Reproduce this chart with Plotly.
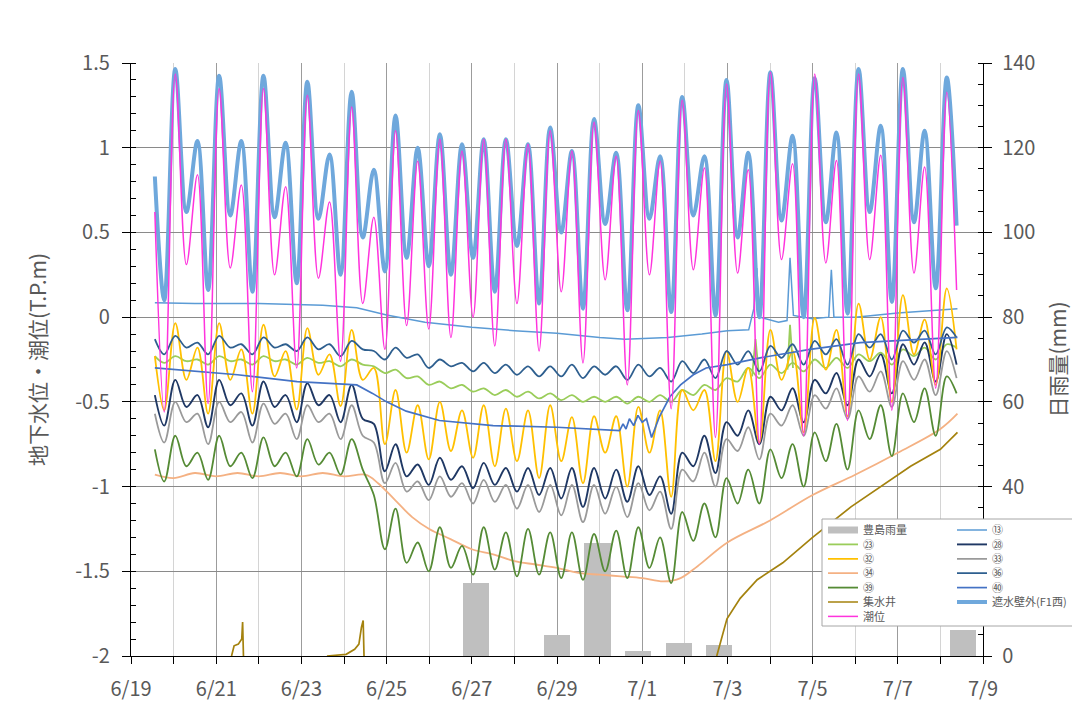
import pandas as pd
import plotly.graph_objects as go

BASE = pd.Timestamp("2021-06-19")

# ---------------- data (time in days since 6/19 00:00) ----------------
rain_categories = ["6/19", "6/20", "6/21", "6/22", "6/23", "6/24", "6/25", "6/26", "6/27", "6/28",
                   "6/29", "6/30", "7/1", "7/2", "7/3", "7/4", "7/5", "7/6", "7/7", "7/8", "7/9"]
rain_dates = ["6/27", "6/29", "6/30", "7/1", "7/2", "7/3", "7/9"]
rain_mm = [17.2, 5.0, 26.6, 1.2, 3.0, 2.7, 6.1]

tide_t = [0.56, 0.78, 1.04, 1.30, 1.56, 1.81, 2.07, 2.33, 2.59, 2.85, 3.11, 3.37, 3.63, 3.89, 4.14,
          4.40, 4.66, 4.92, 5.18, 5.44, 5.70, 5.96, 6.21, 6.47, 6.73, 6.99, 7.25, 7.51, 7.77, 8.03,
          8.28, 8.54, 8.80, 9.06, 9.32, 9.58, 9.84, 10.10, 10.35, 10.61, 10.87, 11.13, 11.39, 11.65,
          11.91, 12.17, 12.42, 12.68, 12.94, 13.20, 13.46, 13.72, 13.98, 14.24, 14.49, 14.75, 15.01,
          15.27, 15.53, 15.79, 16.05, 16.31, 16.56, 16.82, 17.08, 17.34, 17.60, 17.86, 18.12, 18.38,
          18.63, 18.89, 19.15, 19.38]

tide_level = [0.62,
    -0.56, 1.435, 0.31, 0.84, -0.51, 1.35, 0.29, 0.78, -0.44, 1.35,
    0.25, 0.77, -0.30, 1.31, 0.23, 0.68, -0.26, 1.24, 0.08, 0.59,
    -0.19, 1.10, -0.05, 0.92, -0.07, 1.05, -0.12, 0.98, 0.00, 1.05,
    -0.17, 1.05, 0.08, 1.02, -0.20, 1.10, 0.15, 0.98, -0.27, 1.15,
    0.22, 0.95, -0.40, 1.22, 0.25, 0.92, -0.54, 1.28, 0.28, 0.88,
    -0.71, 1.376, 0.26, 0.87, -0.75, 1.445, 0.34, 0.905, -0.70, 1.435,
    0.32, 0.925, -0.61, 1.435, 0.34, 0.955, -0.55, 1.415, 0.26, 0.886,
    -0.42, 1.327, 0.16]

wall_f1w = [0.83,
    0.10, 1.465, 0.62, 1.04, 0.16, 1.425, 0.60, 1.04, 0.15, 1.425,
    0.59, 1.03, 0.20, 1.39, 0.58, 0.96, 0.25, 1.33, 0.47, 0.87,
    0.27, 1.19, 0.35, 1.00, 0.30, 1.08, 0.25, 1.02, 0.35, 1.05,
    0.15, 1.05, 0.42, 1.02, 0.08, 1.12, 0.50, 0.98, 0.05, 1.17,
    0.55, 0.97, 0.04, 1.25, 0.58, 0.95, 0.03, 1.30, 0.60, 0.95,
    0.01, 1.40, 0.47, 0.97, 0.00, 1.445, 0.57, 1.07, 0.00, 1.41,
    0.56, 1.09, 0.02, 1.465, 0.62, 1.13, 0.09, 1.465, 0.56, 1.10,
    0.17, 1.415, 0.54]

w28 = [-0.46,
    -0.64, -0.37, -0.53, -0.46, -0.65, -0.37, -0.52, -0.45, -0.64, -0.38,
    -0.53, -0.46, -0.62, -0.39, -0.52, -0.46, -0.62, -0.40, -0.60, -0.63,
    -0.91, -0.75, -0.94, -0.87, -0.99, -0.83, -0.96, -0.88, -1.01, -0.86,
    -0.99, -0.89, -1.03, -0.89, -1.05, -0.89, -1.07, -0.89, -1.12, -0.89,
    -1.07, -0.90, -1.09, -0.88, -1.05, -0.94, -1.16, -0.80, -0.88, -0.70,
    -0.92, -0.62, -0.70, -0.55, -0.75, -0.47, -0.55, -0.42, -0.62, -0.37,
    -0.45, -0.33, -0.52, -0.25, -0.35, -0.22, -0.45, -0.16, -0.28, -0.15,
    -0.38, -0.10, -0.28]

w33 = [-0.57,
    -0.74, -0.50, -0.62, -0.57, -0.75, -0.50, -0.62, -0.56, -0.74, -0.51,
    -0.63, -0.57, -0.72, -0.52, -0.62, -0.57, -0.72, -0.52, -0.70, -0.74,
    -0.98, -0.86, -1.03, -0.97, -1.08, -0.94, -1.06, -0.98, -1.10, -0.96,
    -1.09, -0.99, -1.13, -0.99, -1.15, -0.99, -1.17, -0.99, -1.21, -0.99,
    -1.16, -1.00, -1.18, -0.98, -1.14, -1.03, -1.25, -0.90, -0.97, -0.80,
    -1.00, -0.72, -0.79, -0.65, -0.84, -0.57, -0.64, -0.52, -0.70, -0.46,
    -0.54, -0.42, -0.60, -0.35, -0.44, -0.32, -0.53, -0.26, -0.37, -0.25,
    -0.46, -0.20, -0.36]

w32 = [-0.23,
    -0.55, -0.035, -0.37, -0.18, -0.57, -0.035, -0.37, -0.19, -0.57, -0.045,
    -0.35, -0.20, -0.545, -0.065, -0.34, -0.22, -0.525, -0.075, -0.37, -0.30,
    -0.75, -0.43, -0.80, -0.52, -0.84, -0.50, -0.79, -0.55, -0.83, -0.52,
    -0.88, -0.54, -0.85, -0.55, -0.95, -0.52, -0.85, -0.59, -0.98, -0.585,
    -0.80, -0.585, -1.00, -0.53, -0.80, -0.55, -1.06, -0.43, -0.55, -0.43,
    -0.85, -0.20, -0.50, -0.30, -0.74, -0.075, -0.37, -0.20, -0.68, -0.005,
    -0.31, -0.075, -0.585, 0.08, -0.25, 0.00, -0.50, 0.13, -0.22, -0.015,
    -0.40, 0.17, -0.19]

w39 = [-0.78,
    -0.97, -0.70, -0.88, -0.80, -0.96, -0.70, -0.88, -0.80, -0.95, -0.71,
    -0.88, -0.80, -0.94, -0.72, -0.87, -0.80, -0.93, -0.72, -0.90, -1.05,
    -1.37, -1.13, -1.45, -1.33, -1.50, -1.24, -1.48, -1.35, -1.52, -1.24,
    -1.49, -1.27, -1.53, -1.25, -1.52, -1.27, -1.54, -1.27, -1.55, -1.28,
    -1.50, -1.26, -1.54, -1.24, -1.48, -1.30, -1.57, -1.15, -1.32, -1.10,
    -1.30, -0.95, -1.10, -0.90, -1.10, -0.78, -0.95, -0.75, -1.00, -0.68,
    -0.85, -0.63, -0.90, -0.55, -0.72, -0.52, -0.82, -0.45, -0.62, -0.42,
    -0.70, -0.35, -0.45]

w36 = [-0.13,
    -0.22, -0.11, -0.18, -0.15, -0.22, -0.11, -0.18, -0.16, -0.22, -0.12,
    -0.18, -0.16, -0.20, -0.12, -0.19, -0.16, -0.23, -0.14, -0.19, -0.20,
    -0.25, -0.18, -0.24, -0.22, -0.30, -0.25, -0.29, -0.27, -0.32, -0.27,
    -0.33, -0.28, -0.34, -0.29, -0.35, -0.29, -0.35, -0.28, -0.36, -0.29,
    -0.34, -0.29, -0.37, -0.28, -0.35, -0.30, -0.38, -0.26, -0.33, -0.25,
    -0.36, -0.20, -0.28, -0.20, -0.32, -0.17, -0.24, -0.16, -0.28, -0.14,
    -0.22, -0.13, -0.28, -0.10, -0.18, -0.10, -0.25, -0.08, -0.15, -0.08,
    -0.22, -0.06, -0.12]

w23 = [-0.23,
    -0.27, -0.23, -0.26, -0.25, -0.28, -0.23, -0.26, -0.25, -0.28, -0.23,
    -0.26, -0.25, -0.28, -0.24, -0.27, -0.26, -0.29, -0.25, -0.28, -0.29,
    -0.33, -0.31, -0.36, -0.35, -0.40, -0.38, -0.42, -0.40, -0.44, -0.42,
    -0.46, -0.43, -0.47, -0.44, -0.48, -0.45, -0.49, -0.46, -0.50, -0.47,
    -0.50, -0.47, -0.51, -0.47, -0.50, -0.46, -0.50, -0.43, -0.46, -0.40,
    -0.43, -0.36, -0.38, -0.30, -0.36, -0.28, -0.33, -0.27, -0.32, -0.25,
    -0.30, -0.24, -0.30, -0.22, -0.26, -0.21, -0.28, -0.19, -0.23, -0.18,
    -0.25, -0.16, -0.18]

# short spikes of ㉓ seen around 7/3-7/4
w23_spike_t = [14.58, 14.66, 14.74, None, 15.41, 15.47, 15.54]
w23_spike = [-0.35, -0.13, -0.34, None, -0.31, -0.045, -0.30]

w13_t = [0.56, 1.5, 3.0, 4.5, 5.3, 6.0, 6.9, 8.0, 9.0, 10.0, 11.0, 11.6, 12.6, 13.4, 14.0, 14.5,
         14.62, 14.69, 14.76, 15.2, 15.40, 15.47, 15.55, 16.0, 16.38, 16.44, 16.50, 17.0, 18.0, 19.4]
w13 = [0.085, 0.08, 0.08, 0.07, 0.055, 0.013, -0.03, -0.06, -0.08, -0.095, -0.12, -0.13, -0.12,
       -0.10, -0.08, -0.075, 0.05, 0.29, 0.0, -0.03, -0.02, 0.35, 0.01, -0.01, 0.0, 0.28, 0.0,
       0.0, 0.025, 0.05]

w40_t = [0.56, 2.5, 3.9, 5.3, 5.67, 6.0, 6.46, 7.24, 8.5, 10.0, 11.47, 11.55, 11.62, 11.7, 11.8,
         11.9, 12.0, 12.1, 12.22, 12.4, 12.65, 12.9, 13.2, 13.5, 14.0, 14.77, 15.94, 17.12, 19.4]
w40 = [-0.30, -0.34, -0.38, -0.40, -0.45, -0.50, -0.555, -0.61, -0.64, -0.65, -0.67, -0.63, -0.66,
       -0.60, -0.64, -0.58, -0.62, -0.60, -0.71, -0.59, -0.47, -0.40, -0.34, -0.30, -0.28, -0.24,
       -0.19, -0.15, -0.12]

w34_t = [0.56, 1.0, 1.5, 2.0, 2.5, 3.0, 3.5, 4.0, 4.5, 5.0, 5.5, 5.8, 6.2, 6.6, 7.0, 7.5, 8.0, 8.5,
         9.0, 9.5, 10.0, 10.5, 11.0, 11.5, 12.0, 12.5, 12.9, 13.3, 14.0, 15.0, 16.0, 17.0, 18.0,
         19.0, 19.4]
w34 = [-0.93, -0.95, -0.92, -0.94, -0.92, -0.94, -0.92, -0.94, -0.92, -0.94, -0.93, -0.98, -1.08,
       -1.18, -1.25, -1.31, -1.37, -1.40, -1.44, -1.46, -1.48, -1.51, -1.52, -1.53, -1.54, -1.56,
       -1.54, -1.47, -1.33, -1.20, -1.05, -0.93, -0.80, -0.66, -0.57]

well_t = [2.36, 2.42, 2.52, 2.60, 2.62, 2.64, 2.65,
          4.60, 5.05, 5.25, 5.35, 5.41, 5.45, 5.47, 5.48,
          13.75, 13.99, 14.3, 14.7, 15.3, 16.0, 16.9, 17.6, 18.3, 19.0, 19.4]
well = [-2.0, -1.94, -1.93, -1.90, -1.80, -2.0, None,
        -2.0, -1.99, -1.96, -1.93, -1.83, -1.79, -2.0, None,
        -2.0, -1.78, -1.66, -1.55, -1.45, -1.30, -1.12, -1.0, -0.88, -0.78, -0.68]

for arr in (tide_level, wall_f1w, w28, w33, w32, w39, w36, w23):
    assert len(arr) == len(tide_t), len(arr)


def to_dt(days):
    return [None if d is None else BASE + pd.Timedelta(days=d) for d in days]


# ---------------- figure ----------------
FONT = "Noto Sans CJK JP, Noto Sans, sans-serif"
GREY_TXT = "#595959"

fig = go.Figure()

# rainfall bars on the primary (category-index) axes -> drawn beneath the lines
fig.add_trace(go.Bar(
    x=[rain_categories.index(d) for d in rain_dates], y=rain_mm,
    width=0.65, marker=dict(color="#bfbfbf", line=dict(width=0)),
    xaxis="x", yaxis="y", showlegend=False, hoverinfo="skip"))

ROWS = ["legend", "legend2", "legend3", "legend4", "legend5", "legend6", "legend7"]

# legend-only entry for the rain series (wide grey swatch)
fig.add_trace(go.Scatter(x=[None], y=[None], mode="lines", name="豊島雨量",
                         line=dict(color="#bfbfbf", width=7), xaxis="x2", yaxis="y2",
                         legend=ROWS[0]))


def add_line(t, v, name, color, width, legend, shape="spline", showlegend=True):
    fig.add_trace(go.Scatter(
        x=to_dt(t), y=v, mode="lines", name=name,
        line=dict(color=color, width=width, shape=shape, smoothing=1.0 if shape == "spline" else None),
        xaxis="x2", yaxis="y2", legend=legend, connectgaps=False, hoverinfo="skip",
        showlegend=showlegend))


add_line(w13_t, w13, "⑬", "#5b9bd5", 1.5, ROWS[0], "linear")
add_line(tide_t, w23, "㉓", "#9acd5a", 1.8, ROWS[1])
add_line(w23_spike_t, w23_spike, "㉓", "#9acd5a", 1.8, ROWS[1], "linear", showlegend=False)
add_line(tide_t, w28, "㉘", "#1f3864", 1.9, ROWS[1])
add_line(tide_t, w32, "㉜", "#ffc000", 1.8, ROWS[2])
add_line(tide_t, w33, "㉝", "#9a9a9a", 1.8, ROWS[2])
add_line(w34_t, w34, "㉞", "#f4b183", 1.8, ROWS[3])
add_line(tide_t, w36, "㊱", "#2e5f8f", 1.8, ROWS[3])
add_line(tide_t, w39, "㊴", "#558b35", 1.8, ROWS[4])
add_line(w40_t, w40, "㊵", "#4472c4", 1.7, ROWS[4], "linear")
add_line(well_t, well, "集水井", "#a4820e", 1.7, ROWS[5], "linear")
add_line(tide_t, wall_f1w, "遮水壁外(F1西)", "#6fa8dc", 4.0, ROWS[5])
add_line(tide_t, tide_level, "潮位", "#ff33dd", 1.5, ROWS[6])

# geometry: the page places the figure 8 px from the window's top-left corner
OFF = 8
W, H = 1080 - 2 * OFF, 709 - 2 * OFF
L, T = 131 - OFF, 63 - OFF
PW, PH = 852, 593
R, B = W - L - PW, H - T - PH


def px_x(x):   # window pixel -> paper fraction
    return (x - OFF - L) / PW


def px_y(y):
    return (T + PH - (y - OFF)) / PH


y_ticks = [1.5, 1, 0.5, 0, -0.5, -1, -1.5, -2]
y_text = ["1.5", "1", "0.5", "0", "-0.5", "-1", "-1.5", "-2"]
rain_ticks = [0, 40, 60, 80, 100, 120, 140]   # the 20 label sits under the legend box

tickfont = dict(family=FONT, size=20, color=GREY_TXT)

layout = dict(
    width=W, height=H,
    margin=dict(l=L, r=R, t=T, b=B, autoexpand=False),
    paper_bgcolor="white", plot_bgcolor="white",
    font=dict(family=FONT, color=GREY_TXT),
    bargap=0,
    xaxis=dict(range=[-0.5, len(rain_categories) - 0.5], visible=False, fixedrange=True,
               automargin=False),
    yaxis=dict(range=[0, 140], side="right", tickvals=rain_ticks, ticks="outside", ticklen=8,
               tickcolor="black", tickwidth=1.2, showgrid=False, zeroline=False,
               showline=True, linecolor="black", linewidth=1.3, tickfont=tickfont,
               ticklabelstandoff=6, automargin=False,
               minor=dict(dtick=5, ticks="inside", ticklen=5, tickcolor="black", tickwidth=1),
               title=dict(text="日雨量(mm)", font=dict(family=FONT, size=21, color=GREY_TXT),
                          standoff=22)),
    xaxis2=dict(type="date", overlaying="x", anchor="y2", side="bottom",
                range=[BASE, BASE + pd.Timedelta(days=20)],
                tick0=BASE, dtick=2 * 86400000, tickformat="%-m/%-d",
                ticks="outside", ticklen=7, tickcolor="black", tickwidth=1.2,
                showgrid=True, gridcolor="#9c9c9c", gridwidth=1.3,
                minor=dict(dtick=86400000, showgrid=True, gridcolor="#d4d4d4", gridwidth=1.3,
                           ticks="outside", ticklen=7, tickcolor="black", tickwidth=1.2),
                showline=True, linecolor="black", linewidth=1.3, zeroline=False,
                tickfont=tickfont, ticklabelstandoff=8, automargin=False),
    yaxis2=dict(overlaying="y", side="left", anchor="x2", range=[-2, 1.5],
                tickvals=y_ticks, ticktext=y_text, ticks="outside", ticklen=8,
                tickcolor="black", tickwidth=1.2,
                showgrid=True, gridcolor="#8a8a8a", gridwidth=1.3, zeroline=False,
                showline=True, linecolor="black", linewidth=1.3, tickfont=tickfont,
                ticklabelstandoff=8, automargin=False,
                minor=dict(dtick=0.1, tick0=0, ticks="inside", ticklen=5, tickcolor="black",
                           tickwidth=1),
                title=dict(text="地下水位・潮位(T.P.m)", font=dict(family=FONT, size=21, color=GREY_TXT),
                           standoff=22)),
    shapes=[dict(type="rect", xref="paper", yref="paper",
                 x0=px_x(822), x1=px_x(1074), y0=px_y(626), y1=px_y(519),
                 fillcolor="white", line=dict(color="#a6a6a6", width=1), layer="above")],
)

row_centers = [530, 544.4, 558.8, 573.2, 587.6, 602, 616.4]
for name, yc in zip(ROWS, row_centers):
    layout[name] = dict(orientation="h", x=px_x(823), xanchor="left", y=px_y(yc), yanchor="middle",
                        bgcolor="rgba(0,0,0,0)", borderwidth=0, entrywidth=84,
                        entrywidthmode="pixels", itemwidth=30,
                        font=dict(family=FONT, size=11, color=GREY_TXT), tracegroupgap=0)

fig.update_layout(**layout)
fig.write_html("out.html")
